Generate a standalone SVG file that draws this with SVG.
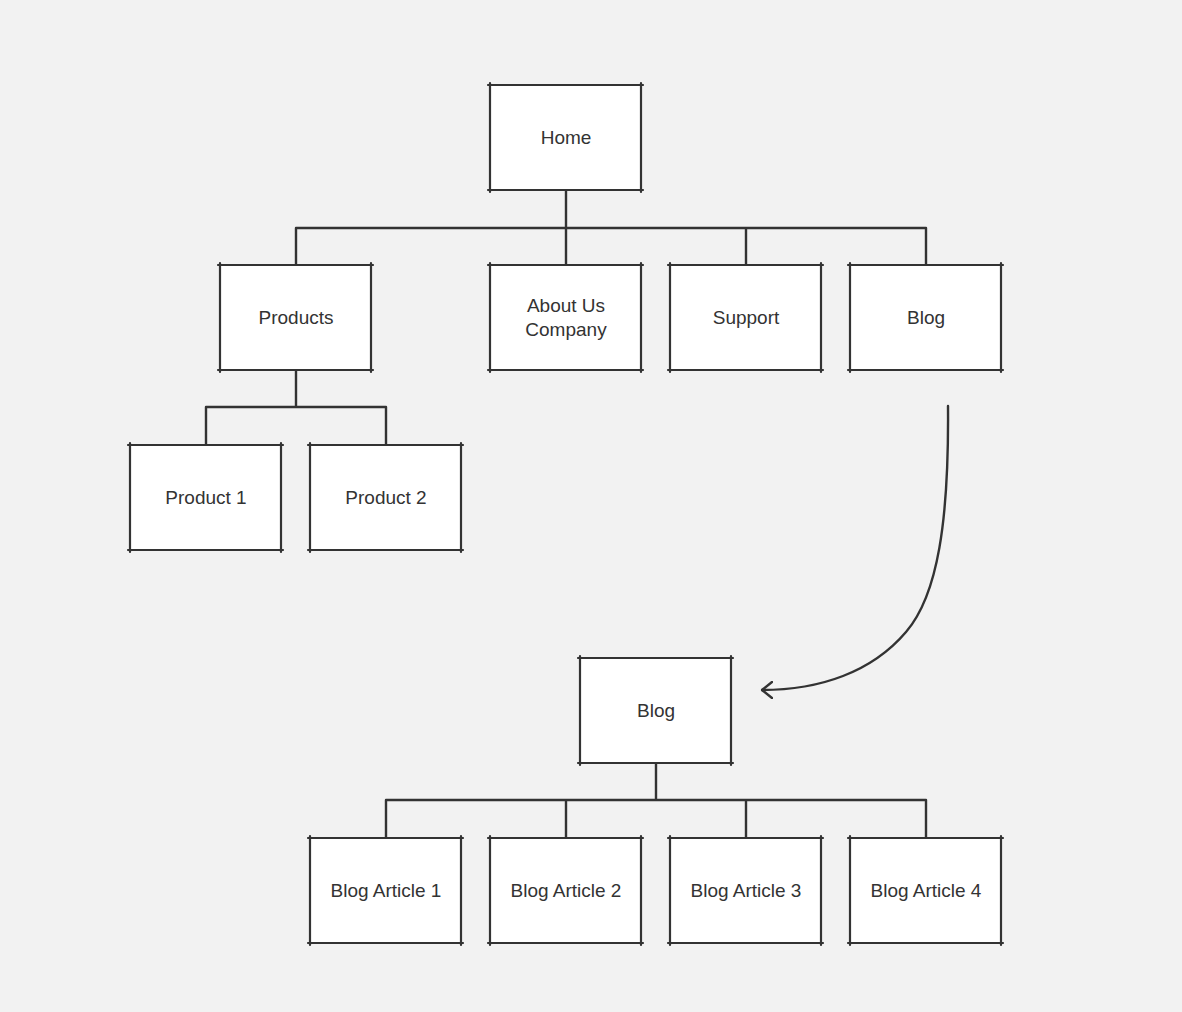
<svg xmlns="http://www.w3.org/2000/svg" width="1182" height="1012" viewBox="0 0 1182 1012">
<defs>
<style>
.box{fill:#fff;stroke:none}
.edge{fill:none;stroke:#333;stroke-width:2.2;stroke-linecap:round}
.lbl{font-family:"Liberation Sans","Noto Sans",sans-serif;font-size:19px;fill:#333;text-anchor:middle;dominant-baseline:central}
.con{fill:none;stroke:#333;stroke-width:2.4;stroke-linecap:round;stroke-linejoin:round}
</style>
<marker id="arr" viewBox="0 0 12 18" refX="11" refY="9" markerWidth="12" markerHeight="18" markerUnits="userSpaceOnUse" orient="auto">
<path d="M1,1 L11,9 L1,17" fill="none" stroke="#333" stroke-width="2.4" stroke-linecap="round" stroke-linejoin="round"/>
</marker>
</defs>
<rect width="1182" height="1012" fill="#f2f2f2"/>
<g id="connectors">
<path class="con" d="M566,190 V228 M296,228 H926 M296,228 V265 M566,228 V265 M746,228 V265 M926,228 V265"/>
<path class="con" d="M296,370 V407 M206,407 H386 M206,407 V445 M386,407 V445"/>
<path class="con" d="M656,763 V800 M386,800 H926 M386,800 V838 M566,800 V838 M746,800 V838 M926,800 V838"/>
<path class="con" d="M948,406 C949,520 938,595 906,632 C872,672 820,690 762,690" marker-end="url(#arr)"/>
</g>
<g id="home"><rect class="box" x="490" y="85" width="151" height="105"/><path class="edge" d="M488,85 H643 M490,83 V192 M488,190 H643 M641,83 V192"/><text class="lbl" x="566" y="137">Home</text></g>
<g id="products"><rect class="box" x="220" y="265" width="151" height="105"/><path class="edge" d="M218,265 H373 M220,263 V372 M218,370 H373 M371,263 V372"/><text class="lbl" x="296" y="317">Products</text></g>
<g id="about"><rect class="box" x="490" y="265" width="151" height="105"/><path class="edge" d="M488,265 H643 M490,263 V372 M488,370 H643 M641,263 V372"/><text class="lbl" x="566" y="305">About Us</text><text class="lbl" x="566" y="329">Company</text></g>
<g id="support"><rect class="box" x="670" y="265" width="151" height="105"/><path class="edge" d="M668,265 H823 M670,263 V372 M668,370 H823 M821,263 V372"/><text class="lbl" x="746" y="317">Support</text></g>
<g id="blog"><rect class="box" x="850" y="265" width="151" height="105"/><path class="edge" d="M848,265 H1003 M850,263 V372 M848,370 H1003 M1001,263 V372"/><text class="lbl" x="926" y="317">Blog</text></g>
<g id="product1"><rect class="box" x="130" y="445" width="151" height="105"/><path class="edge" d="M128,445 H283 M130,443 V552 M128,550 H283 M281,443 V552"/><text class="lbl" x="206" y="497">Product 1</text></g>
<g id="product2"><rect class="box" x="310" y="445" width="151" height="105"/><path class="edge" d="M308,445 H463 M310,443 V552 M308,550 H463 M461,443 V552"/><text class="lbl" x="386" y="497">Product 2</text></g>
<g id="blog2"><rect class="box" x="580" y="658" width="151" height="105"/><path class="edge" d="M578,658 H733 M580,656 V765 M578,763 H733 M731,656 V765"/><text class="lbl" x="656" y="710">Blog</text></g>
<g id="article1"><rect class="box" x="310" y="838" width="151" height="105"/><path class="edge" d="M308,838 H463 M310,836 V945 M308,943 H463 M461,836 V945"/><text class="lbl" x="386" y="890">Blog Article 1</text></g>
<g id="article2"><rect class="box" x="490" y="838" width="151" height="105"/><path class="edge" d="M488,838 H643 M490,836 V945 M488,943 H643 M641,836 V945"/><text class="lbl" x="566" y="890">Blog Article 2</text></g>
<g id="article3"><rect class="box" x="670" y="838" width="151" height="105"/><path class="edge" d="M668,838 H823 M670,836 V945 M668,943 H823 M821,836 V945"/><text class="lbl" x="746" y="890">Blog Article 3</text></g>
<g id="article4"><rect class="box" x="850" y="838" width="151" height="105"/><path class="edge" d="M848,838 H1003 M850,836 V945 M848,943 H1003 M1001,836 V945"/><text class="lbl" x="926" y="890">Blog Article 4</text></g>
</svg>
